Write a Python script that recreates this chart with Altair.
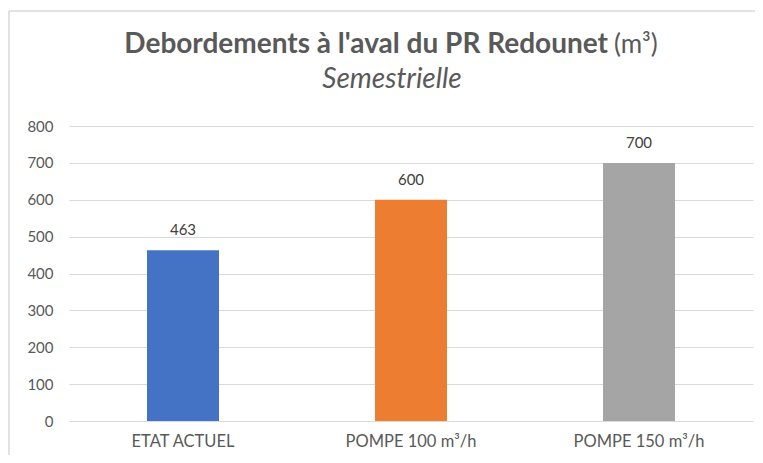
import altair as alt
import pandas as pd

categories = ["ETAT ACTUEL", "POMPE 100 m³/h", "POMPE 150 m³/h"]
values = [463, 600, 700]
colors = ["#4472C4", "#ED7D31", "#A5A5A5"]
y_ticks = [0, 100, 200, 300, 400, 500, 600, 700, 800]
title_main = "Debordements à l'aval du PR Redounet"
title_unit = "(m³)"
subtitle = "Semestrielle"

df = pd.DataFrame({"cat": categories, "val": values, "color": colors})

FONT = "Lato"
W, H = 684, 295

base = alt.Chart(df).encode(
    x=alt.X("cat:N", sort=categories, title=None,
            scale=alt.Scale(paddingInner=0, paddingOuter=0),
            axis=alt.Axis(labelAngle=0, labelFont=FONT, labelFontSize=16.5,
                          labelColor="#595959", ticks=False, domain=False,
                          labelPadding=12, grid=False)),
    y=alt.Y("val:Q", title=None,
            scale=alt.Scale(domain=[0, 800], nice=False),
            axis=alt.Axis(values=y_ticks, tickCount=9, labelFont=FONT,
                          labelFontSize=15, labelColor="#595959", ticks=False,
                          domain=False, labelOverlap=False, labelPadding=16,
                          gridColor="#D9D9D9", gridWidth=1)),
)

bars = base.mark_bar(width=72).encode(
    color=alt.Color("color:N", scale=None),
)

labels = base.mark_text(dy=-12, font=FONT, fontSize=15, color="#404040",
                        baseline="bottom").encode(
    text=alt.Text("val:Q"),
)

def txt(s, x, y, size, weight="normal", style="normal", align="center"):
    return alt.Chart(pd.DataFrame({"t": [s]})).mark_text(
        font=FONT, fontSize=size, fontWeight=weight, fontStyle=style,
        color="#595959", align=align, baseline="alphabetic"
    ).encode(text="t:N", x=alt.value(x), y=alt.value(y))

t_main = txt(title_main, 539, -73, 28, weight="bold", align="right")
t_unit = txt(title_unit, 545, -73, 26, align="left")
t_sub = txt(subtitle, 323, -38, 28, style="italic")

border_left = alt.Chart(pd.DataFrame({"a": [0]})).mark_rule(
    color="#D9D9D9", strokeWidth=1.5, clip=False
).encode(x=alt.value(-60), y=alt.value(-115), y2=alt.value(H + 40))
border_top = alt.Chart(pd.DataFrame({"a": [0]})).mark_rule(
    color="#D9D9D9", strokeWidth=1.5, clip=False
).encode(y=alt.value(-115), x=alt.value(-60), x2=alt.value(W + 20))

chart = alt.layer(border_left, border_top, bars, labels, t_main, t_unit, t_sub).properties(
    width=W, height=H,
    background="white",
    autosize=alt.AutoSizeParams(type="none"),
    padding={"left": 61, "top": 118, "right": 2, "bottom": 34},
).configure_view(stroke=None, strokeWidth=0)

chart.save("out.html", embed_options={"renderer": "svg", "actions": False})
